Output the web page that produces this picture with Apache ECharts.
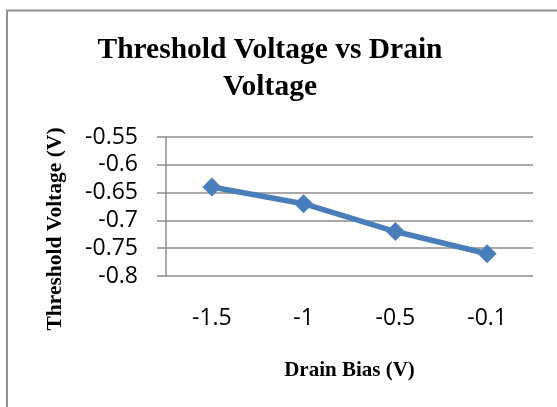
<!DOCTYPE html>
<html>
<head>
<meta charset="utf-8">
<script src="https://cdn.jsdelivr.net/npm/echarts@6/dist/echarts.min.js"></script>
<style>
  html, body { margin: 0; padding: 0; background: #fff; }
  #chart { width: 557px; height: 407px; }
</style>
</head>
<body>
<div id="chart"></div>
<script>
// Drain bias categories (V) and measured threshold voltage (V)
const drainBias = ['-1.5', '-1', '-0.5', '-0.1'];
const thresholdVoltage = [-0.64, -0.67, -0.72, -0.76];

// Value axis range
const yMin = -0.8;
const yMax = -0.55;
const yStep = 0.05;

const chart = echarts.init(document.getElementById('chart'), null, { renderer: 'canvas' });

const serif = '"Liberation Serif", "Times New Roman", serif';
const sans = '"Open Sans", "Liberation Sans", sans-serif';
const gridGray = '#8c8c8c';

chart.setOption({
  animation: false,
  backgroundColor: '#ffffff',
  title: {
    text: 'Threshold Voltage vs Drain\nVoltage',
    left: 265,
    top: 27,
    textAlign: 'center',
    textStyle: {
      fontFamily: serif,
      fontWeight: 'bold',
      fontSize: 29.5,
      lineHeight: 37,
      color: '#000'
    }
  },
  graphic: [
    {
      type: 'rect',
      shape: { x: 7, y: 10.5, width: 700, height: 600 },
      style: { fill: 'none', stroke: '#909090', lineWidth: 2 },
      silent: true
    },
    {
      type: 'text',
      x: 55,
      y: 229,
      rotation: Math.PI / 2,
      style: {
        text: 'Threshold Voltage (V)',
        fontFamily: serif,
        fontWeight: 'bold',
        fontSize: 21.5,
        fill: '#000',
        align: 'center',
        verticalAlign: 'middle'
      }
    }
  ],
  grid: {
    left: 166,
    right: 24,
    top: 137,
    bottom: 131,
    containLabel: false
  },
  xAxis: {
    type: 'category',
    data: drainBias,
    boundaryGap: true,
    name: 'Drain Bias (V)',
    nameLocation: 'middle',
    nameGap: 84,
    nameTextStyle: {
      fontFamily: serif,
      fontWeight: 'bold',
      fontSize: 21,
      color: '#000'
    },
    axisLine: { show: false },
    axisTick: { show: false },
    axisLabel: {
      margin: 31,
      fontFamily: sans,
      fontSize: 23,
      color: '#000'
    },
    splitLine: { show: false }
  },
  yAxis: {
    type: 'value',
    min: yMin,
    max: yMax,
    interval: yStep,
    axisLine: { show: true, lineStyle: { color: gridGray, width: 1.5 } },
    axisTick: { show: true, inside: false, length: 9, lineStyle: { color: gridGray, width: 1.5 } },
    axisLabel: {
      margin: 28,
      fontFamily: sans,
      fontSize: 23,
      color: '#000',
      formatter: v => String(parseFloat(v.toFixed(2)))
    },
    splitLine: { show: true, lineStyle: { color: gridGray, width: 1.5 } }
  },
  series: [
    {
      type: 'line',
      data: thresholdVoltage,
      symbol: 'diamond',
      symbolSize: 19,
      showAllSymbol: true,
      lineStyle: { color: '#4a7ebb', width: 5.5 },
      itemStyle: { color: '#4a7ebb' }
    }
  ]
});
</script>
</body>
</html>
